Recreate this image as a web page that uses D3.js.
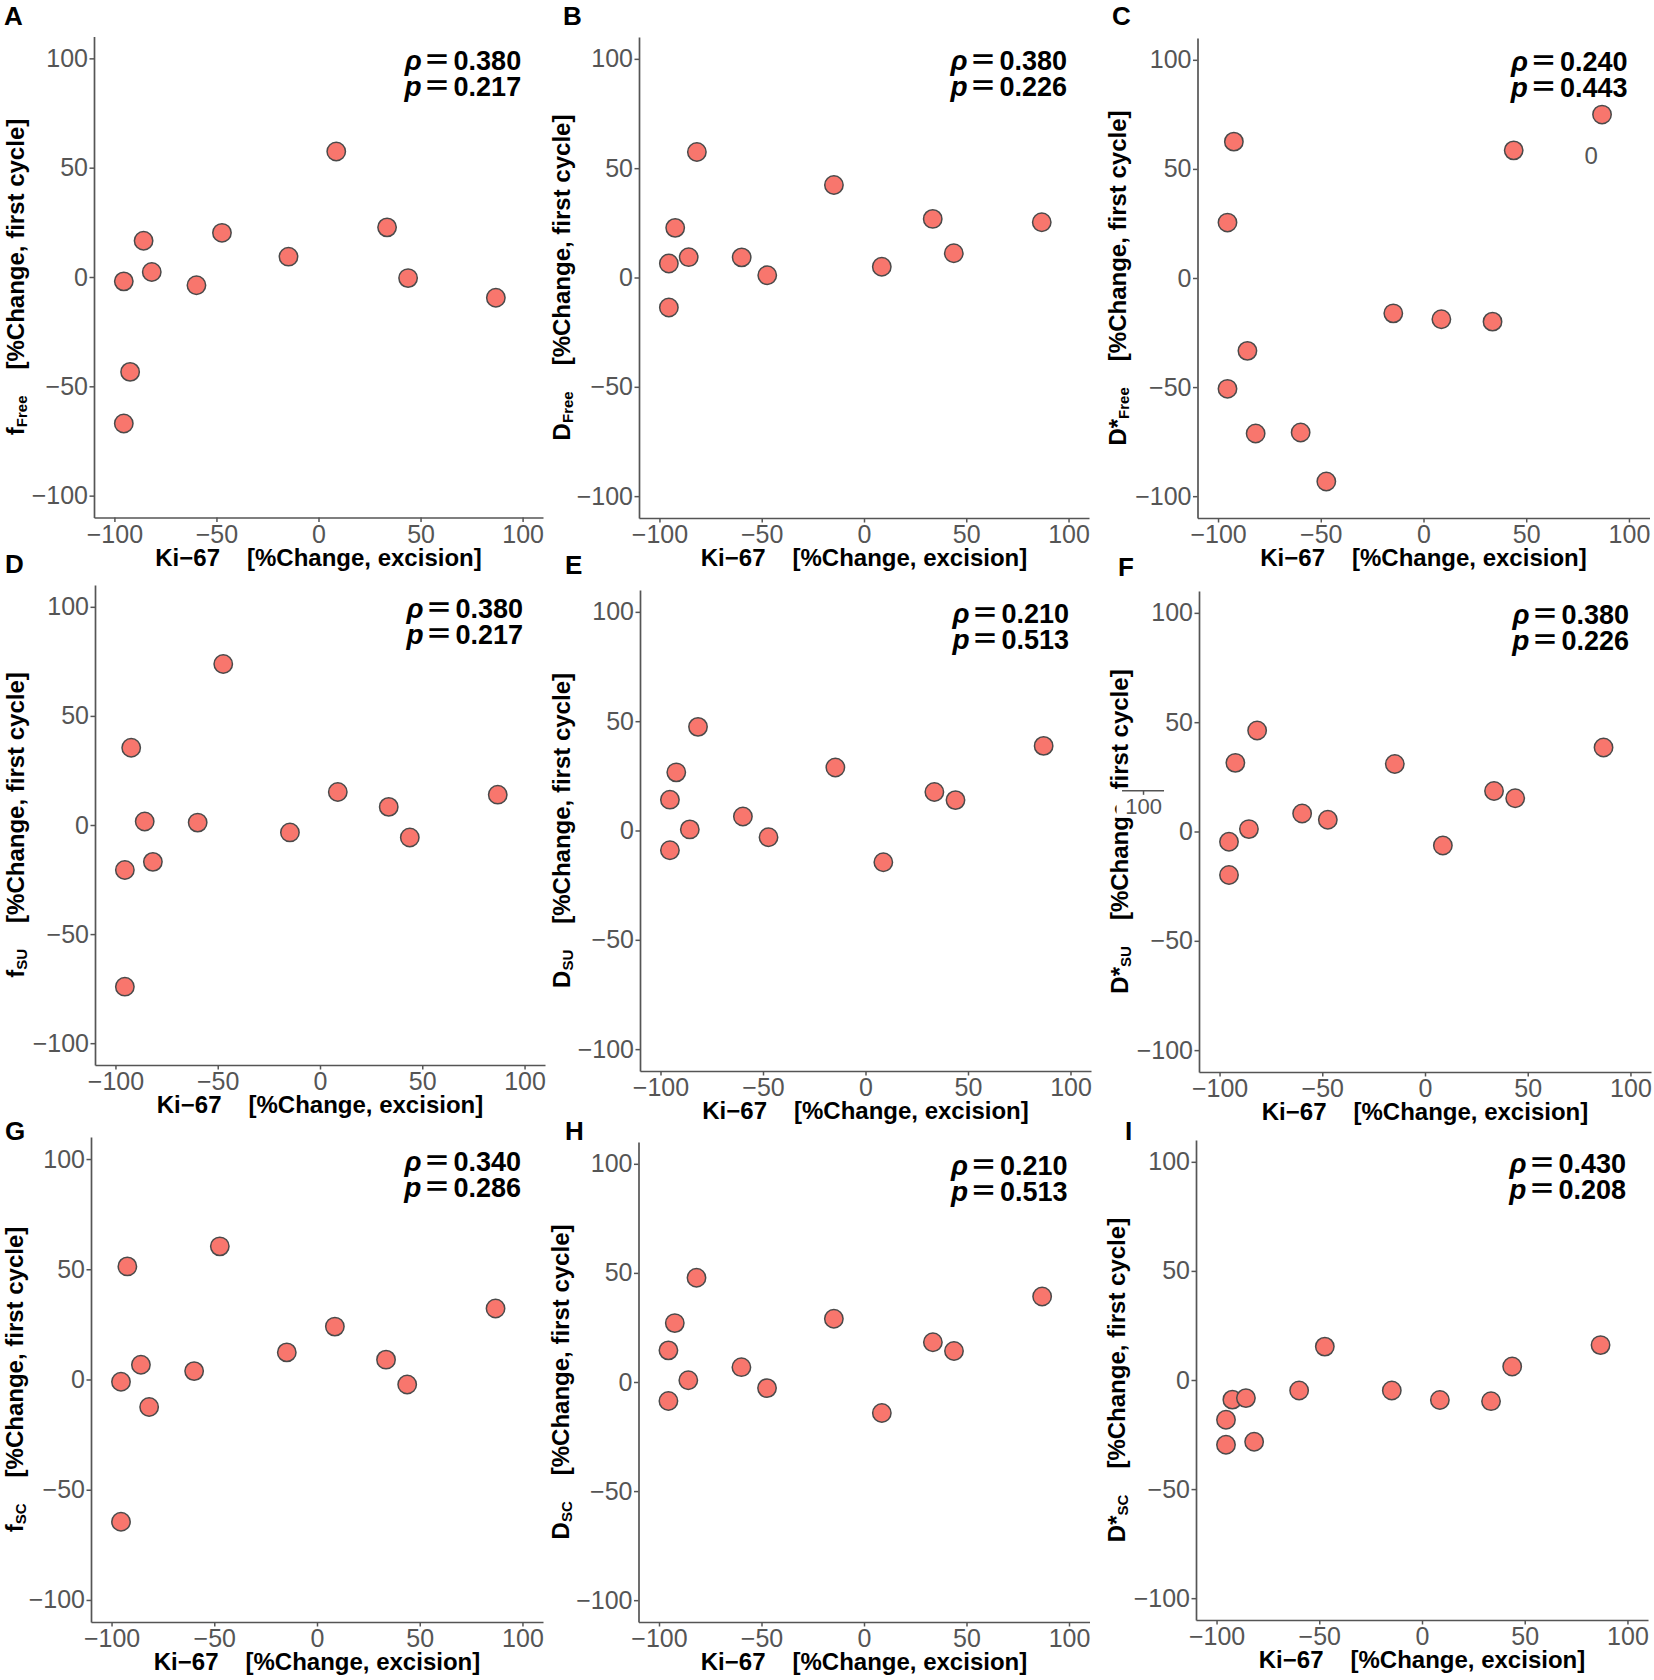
<!DOCTYPE html>
<html>
<head>
<meta charset="utf-8">
<script src="https://cdn.jsdelivr.net/npm/d3@7"></script>
<style>
  body { margin: 0; background: #fff; }
  svg { display: block; }
  text { font-family: "Liberation Sans", Arial, Helvetica, sans-serif; }
</style>
</head>
<body>
<svg id="chart" width="1654" height="1680"></svg>
<script>
// ---------------- DATA ----------------
// Ki-67 %change at excision (x, shared by all panels)
const ki67 = [-95.4, -95.4, -92.3, -85.7, -81.7, -59.8, -47.3, -14.7, 8.7, 33.6, 43.9, 86.9];

// IVIM parameter %change, first cycle (y), same patient order as ki67
const fFree     = [-2.0, -67.0, -43.4, 16.6, 2.3, -3.8, 20.2, 9.3, 57.4, 22.7, -0.5, -9.5];
const dFree     = [6.4, -13.7, 22.7, 9.3, 57.4, 9.2, 1.0, 42.3, 4.9, 26.8, 11.1, 25.3];
const dStarFree = [25.4, -50.8, 62.5, -33.4, -71.3, -70.8, -93.3, -16.2, -18.9, -20.0, 58.5, 74.9];
const fSU       = [-20.6, -74.1, 35.4, 1.6, -16.9, 1.1, 73.8, -3.4, 15.1, 8.3, -5.7, 13.9];
const dSU       = [14.1, -9.0, 26.6, 0.5, 47.4, 6.4, -3.1, 28.8, -14.5, 17.6, 13.9, 38.7];
const dStarSU   = [-4.7, -19.9, 31.4, 1.1, 46.2, 8.2, 5.4, 30.9, -6.4, 18.5, 15.2, 38.4];
const fSC       = [-1.0, -64.5, 51.3, 6.7, -12.5, 3.8, 60.4, 12.3, 24.0, 9.0, -2.3, 32.2];
const dSC       = [14.5, -8.7, 27.0, 0.8, 47.8, 6.8, -2.8, 29.0, -14.2, 18.2, 14.2, 39.2];
const dStarSC   = [-18.2, -29.7, -9.0, -8.3, -28.3, -4.8, 15.3, -4.8, -9.2, -9.7, 6.2, 16.0];

const panelSeries   = [fFree, dFree, dStarFree, fSU, dSU, dStarSU, fSC, dSC, dStarSC];
const panelLetters  = ["A", "B", "C", "D", "E", "F", "G", "H", "I"];
const yVarNames     = ["f", "D", "D*", "f", "D", "D*", "f", "D", "D*"];
const ySubscripts   = ["Free", "Free", "Free", "SU", "SU", "SU", "SC", "SC", "SC"];
const rhoValues     = ["0.380", "0.380", "0.240", "0.380", "0.210", "0.380", "0.340", "0.210", "0.430"];
const pValues       = ["0.217", "0.226", "0.443", "0.217", "0.513", "0.226", "0.286", "0.513", "0.208"];

const axisTicks   = [-100, -50, 0, 50, 100];
const axisLimits  = [-110, 110];
const xTitleVar   = "Ki\u221267";
const xTitleUnit  = "[%Change, excision]";
const yTitleUnit  = "[%Change, first cycle]";
const statSymbols = ["\u03C1", "p"];
const statAnchorX = 99.3;          // data x of right edge of the stats text
const statAnchorY = [94.8, 83.0];  // data y of the two baselines

// stray artefacts present in the source figure (data coords of their panels)
const strayZeroC   = { panel: 2, x: 81.6, y: 56.2, text: "0" };
const strayTickF   = { panel: 5, x: -137, y: 18.6, text: "100" };

// ---------------- LAYOUT (pixels) ----------------
const layout = [
  { l: 94,    t: 36.5,  w: 449, h: 481, lx: 4,    ly: 25,   ytx: 16 },
  { l: 639,   t: 37,    w: 450, h: 481, lx: 563,  ly: 25,   ytx: 562 },
  { l: 1197.5,t: 38,    w: 452, h: 480, lx: 1112, ly: 25,   ytx: 1118 },
  { l: 95,    t: 585,   w: 450, h: 480, lx: 5,    ly: 573,  ytx: 16 },
  { l: 640,   t: 590,   w: 451, h: 481, lx: 565,  ly: 574,  ytx: 562 },
  { l: 1199,  t: 591,   w: 452, h: 481, lx: 1118, ly: 576,  ytx: 1120 },
  { l: 91,    t: 1137,  w: 452, h: 485, lx: 5,    ly: 1140, ytx: 15 },
  { l: 638.5, t: 1142,  w: 451, h: 480, lx: 565,  ly: 1140, ytx: 561 },
  { l: 1196,  t: 1140,  w: 452, h: 480, lx: 1125, ly: 1140, ytx: 1117 }
];

const AXIS_COL = "#555555";
const TICK_TXT = "#555555";
const PT_FILL = "#F8766D";
const PT_STROKE = "#4a4a4a";
const fmtTick = v => (v < 0 ? "\u2212" + Math.abs(v) : String(v));

const svg = d3.select("#chart");
svg.append("rect").attr("width", 1654).attr("height", 1680).attr("fill", "#fff");

panelSeries.forEach((series, i) => {
  const L = layout[i];
  const x = d3.scaleLinear().domain(axisLimits).range([L.l, L.l + L.w]);
  const y = d3.scaleLinear().domain(axisLimits).range([L.t + L.h, L.t]);
  const g = svg.append("g");

  // x axis
  const xAx = g.append("g").attr("transform", `translate(0,${L.t + L.h})`)
    .call(d3.axisBottom(x).tickValues(axisTicks).tickFormat(fmtTick).tickSize(4.5).tickSizeOuter(0).tickPadding(3));
  xAx.select(".domain").attr("stroke", AXIS_COL).attr("stroke-width", 1.7);
  xAx.selectAll(".tick line").attr("stroke", AXIS_COL).attr("stroke-width", 1.5);
  xAx.selectAll(".tick text").attr("fill", TICK_TXT).attr("font-size", 25)
     .attr("font-family", "'Liberation Sans', Arial, sans-serif").attr("dy", "0.71em");

  // y axis
  const yAx = g.append("g").attr("transform", `translate(${L.l},0)`)
    .call(d3.axisLeft(y).tickValues(axisTicks).tickFormat(fmtTick).tickSize(4.5).tickSizeOuter(0).tickPadding(1.5));
  yAx.select(".domain").attr("stroke", AXIS_COL).attr("stroke-width", 1.7);
  yAx.selectAll(".tick line").attr("stroke", AXIS_COL).attr("stroke-width", 1.5);
  yAx.selectAll(".tick text").attr("fill", TICK_TXT).attr("font-size", 25)
     .attr("font-family", "'Liberation Sans', Arial, sans-serif");

  // points
  g.selectAll("circle.pt").data(series.map((v, k) => ({ x: ki67[k], y: v })))
    .join("circle").attr("class", "pt")
    .attr("cx", d => x(d.x)).attr("cy", d => y(d.y)).attr("r", 9.2)
    .attr("fill", PT_FILL).attr("stroke", PT_STROKE).attr("stroke-width", 1.5);

  // panel letter
  g.append("text").attr("x", L.lx).attr("y", L.ly).attr("font-size", 26)
    .attr("font-weight", "bold").attr("fill", "#000").text(panelLetters[i]);

  // x title
  const xt = g.append("text").attr("x", L.l + L.w / 2).attr("y", L.t + L.h + 48)
    .attr("text-anchor", "middle").attr("font-size", 24).attr("font-weight", "bold").attr("fill", "#000");
  xt.append("tspan").text(xTitleVar);
  xt.append("tspan").attr("dx", 27).text(xTitleUnit);

  // y title (rotated)
  const yt = g.append("text")
    .attr("transform", `translate(${L.ytx},${L.t + L.h / 2}) rotate(-90)`)
    .attr("text-anchor", "middle").attr("dy", "0.35em")
    .attr("font-size", 24).attr("font-weight", "bold").attr("fill", "#000");
  yt.append("tspan").text(yVarNames[i]);
  yt.append("tspan").attr("font-size", 15).attr("dy", 3).text(ySubscripts[i]);
  yt.append("tspan").attr("dy", -3).attr("dx", 26).text(yTitleUnit);

  // stats annotation (one text per line: symbol, wide equals, value)
  const R = x(statAnchorX);
  const vals = [rhoValues[i], pValues[i]];
  statAnchorY.forEach((yy, j) => {
    const t = g.append("text").attr("x", R).attr("y", y(yy)).attr("text-anchor", "end")
      .attr("font-size", 27).attr("font-weight", "bold").attr("fill", "#000");
    t.append("tspan").attr("font-size", 28).attr("font-style", "italic").text(statSymbols[j]);
    t.append("tspan").attr("dx", 2)
      .attr("font-family", "'Noto Sans CJK SC', 'Noto Sans CJK JP', sans-serif").text("\uFF1D");
    t.append("tspan").attr("dx", 3).text(vals[j]);
  });

  // stray artefacts
  if (strayZeroC.panel === i) {
    g.append("text").attr("x", x(strayZeroC.x)).attr("y", y(strayZeroC.y)).attr("dy", "0.35em")
      .attr("text-anchor", "middle").attr("font-size", 24).attr("fill", TICK_TXT).text(strayZeroC.text);
  }
  if (strayTickF.panel === i) {
    const px = x(strayTickF.x), py = y(strayTickF.y);
    g.append("rect").attr("x", px - 27).attr("y", py).attr("width", 50).attr("height", 27).attr("fill", "#fff");
    g.append("line").attr("x1", px - 21.5).attr("x2", px + 20.5).attr("y1", py).attr("y2", py)
      .attr("stroke", AXIS_COL).attr("stroke-width", 1.5);
    g.append("line").attr("x1", px).attr("x2", px).attr("y1", py).attr("y2", py + 4)
      .attr("stroke", AXIS_COL).attr("stroke-width", 1.5);
    g.append("text").attr("x", px).attr("y", py + 23.5).attr("text-anchor", "middle")
      .attr("font-size", 22).attr("fill", TICK_TXT).text(strayTickF.text);
  }
});
</script>
</body>
</html>
